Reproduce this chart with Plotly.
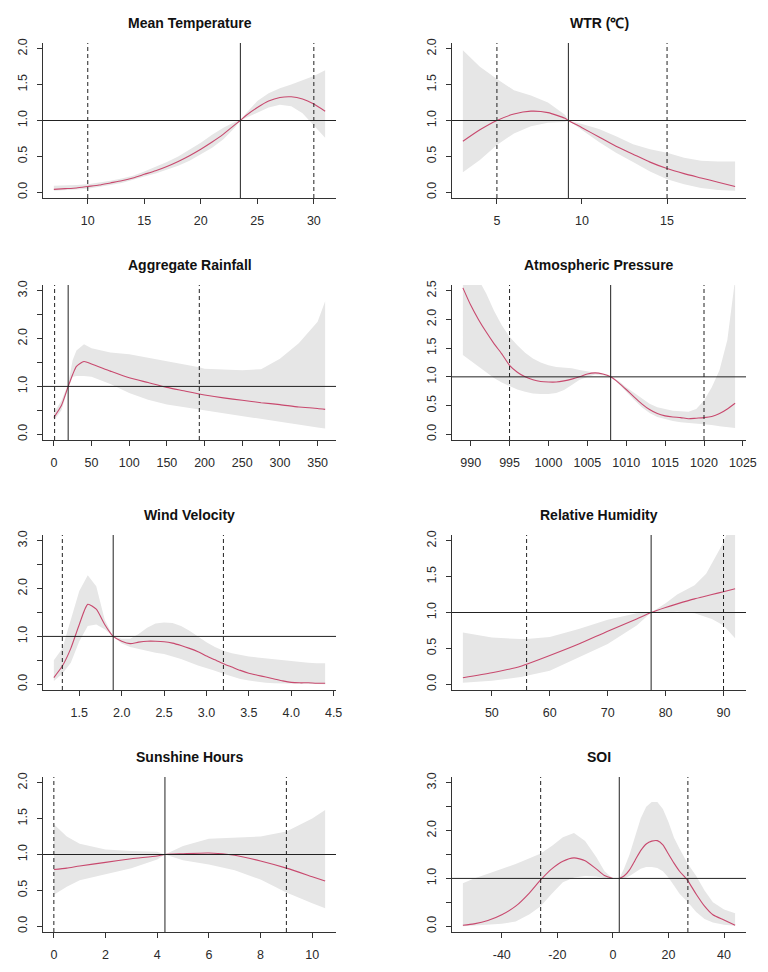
import plotly.graph_objects as go

# ---------------- data ----------------
titles = ["Mean Temperature", "WTR (\u2103)", "Aggregate Rainfall", "Atmospheric Pressure",
          "Wind Velocity", "Relative Humidity", "Sunshine Hours", "SOI"]

# Mean Temperature
temp_x = [7, 8, 9, 10, 11, 12, 13, 14, 15, 16, 17, 18, 19, 20, 21, 22, 23, 23.5, 24, 25, 26, 27, 28, 29, 30, 31]
temp_fit = [0.04, 0.05, 0.06, 0.08, 0.10, 0.13, 0.16, 0.20, 0.25, 0.30, 0.36, 0.43, 0.51, 0.60, 0.70, 0.81, 0.94, 1.0, 1.07, 1.18, 1.27, 1.32, 1.33, 1.30, 1.23, 1.13]
temp_high = [0.09, 0.09, 0.10, 0.11, 0.13, 0.16, 0.19, 0.23, 0.29, 0.35, 0.42, 0.50, 0.59, 0.69, 0.80, 0.90, 0.98, 1.0, 1.10, 1.27, 1.38, 1.45, 1.50, 1.56, 1.62, 1.70]
temp_low = [0.02, 0.03, 0.04, 0.05, 0.07, 0.10, 0.13, 0.17, 0.22, 0.26, 0.31, 0.37, 0.44, 0.53, 0.62, 0.74, 0.90, 1.0, 1.04, 1.11, 1.18, 1.22, 1.20, 1.10, 0.93, 0.76]
temp_ref = 23.5
temp_dash = [10, 30]

# WTR
wtr_x = [3, 4, 5, 6, 7, 8, 9, 9.2, 10, 11, 12, 13, 14, 15, 16, 17, 18, 19]
wtr_fit = [0.71, 0.87, 1.0, 1.09, 1.13, 1.11, 1.03, 1.0, 0.90, 0.77, 0.64, 0.53, 0.42, 0.33, 0.26, 0.20, 0.14, 0.08]
wtr_high = [1.98, 1.75, 1.58, 1.42, 1.35, 1.25, 1.08, 1.0, 0.95, 0.88, 0.78, 0.67, 0.60, 0.55, 0.48, 0.44, 0.43, 0.43]
wtr_low = [0.28, 0.45, 0.66, 0.82, 0.92, 0.97, 0.98, 1.0, 0.86, 0.70, 0.55, 0.42, 0.29, 0.18, 0.11, 0.06, 0.03, 0.02]
wtr_ref = 9.2
wtr_dash = [5, 15]

# Aggregate Rainfall
rain_x = [0, 10, 19, 25, 30, 40, 50, 75, 100, 125, 150, 175, 193, 200, 225, 250, 275, 300, 325, 350, 360]
rain_fit = [0.35, 0.60, 1.0, 1.25, 1.42, 1.52, 1.47, 1.32, 1.18, 1.08, 0.98, 0.90, 0.84, 0.82, 0.76, 0.71, 0.66, 0.62, 0.57, 0.54, 0.52]
rain_high = [0.45, 0.70, 1.05, 1.55, 1.75, 1.88, 1.80, 1.71, 1.67, 1.60, 1.52, 1.45, 1.40, 1.37, 1.35, 1.34, 1.36, 1.58, 1.90, 2.35, 2.78]
rain_low = [0.28, 0.50, 0.95, 1.20, 1.22, 1.22, 1.20, 1.05, 0.86, 0.72, 0.62, 0.55, 0.51, 0.49, 0.44, 0.38, 0.32, 0.25, 0.20, 0.14, 0.12]
rain_ref = 19
rain_dash = [1, 193]

# Atmospheric Pressure
pres_x = list(range(989, 1025))
pres_fit = [2.55, 2.25, 2.0, 1.78, 1.58, 1.40, 1.20, 1.08, 1.0, 0.95, 0.92, 0.91, 0.91, 0.93, 0.96, 1.0, 1.05, 1.07, 1.05, 1.0,
            0.90, 0.78, 0.65, 0.53, 0.43, 0.36, 0.32, 0.30, 0.29, 0.27, 0.28, 0.29, 0.31, 0.36, 0.44, 0.54]
pres_high = [3.5, 3.2, 2.7, 2.45, 2.15, 1.9, 1.70, 1.55, 1.42, 1.32, 1.25, 1.20, 1.17, 1.16, 1.15, 1.12, 1.10, 1.08, 1.05, 1.0,
             0.93, 0.82, 0.72, 0.62, 0.53, 0.47, 0.44, 0.41, 0.40, 0.39, 0.44, 0.59, 0.82, 1.12, 1.64, 2.7]
pres_low = [1.38, 1.28, 1.18, 1.08, 0.98, 0.90, 0.84, 0.78, 0.74, 0.71, 0.70, 0.70, 0.72, 0.77, 0.86, 0.95, 1.0, 1.04, 1.03, 1.0,
            0.88, 0.74, 0.60, 0.47, 0.37, 0.30, 0.26, 0.23, 0.21, 0.19, 0.18, 0.17, 0.16, 0.14, 0.12, 0.11]
pres_ref = 1008
pres_dash = [995, 1020]

# Wind Velocity
wind_x = [1.2, 1.3, 1.4, 1.5, 1.6, 1.7, 1.8, 1.9, 2.0, 2.1, 2.2, 2.3, 2.4, 2.5, 2.6, 2.7, 2.8, 2.9, 3.0, 3.1, 3.2,
          3.3, 3.4, 3.5, 3.6, 3.7, 3.8, 3.9, 4.0, 4.1, 4.2, 4.3, 4.4]
wind_fit = [0.14, 0.38, 0.75, 1.25, 1.67, 1.57, 1.25, 1.0, 0.90, 0.85, 0.88, 0.90, 0.90, 0.89, 0.86, 0.81, 0.75, 0.68, 0.59, 0.51, 0.43,
            0.36, 0.29, 0.23, 0.19, 0.15, 0.11, 0.07, 0.04, 0.03, 0.03, 0.02, 0.02]
wind_high = [0.50, 0.75, 1.35, 1.95, 2.28, 2.05, 1.35, 1.0, 0.95, 0.95, 1.05, 1.18, 1.27, 1.29, 1.28, 1.22, 1.12, 1.0, 0.88, 0.78, 0.70,
             0.65, 0.61, 0.58, 0.56, 0.54, 0.52, 0.50, 0.48, 0.47, 0.45, 0.44, 0.44]
wind_low = [0.07, 0.22, 0.45, 0.90, 1.22, 1.25, 1.15, 1.0, 0.85, 0.78, 0.74, 0.70, 0.66, 0.63, 0.58, 0.53, 0.46, 0.39, 0.33, 0.28, 0.22,
            0.16, 0.11, 0.08, 0.05, 0.03, 0.02, 0.01, 0.01, 0.01, 0.01, 0.01, 0.0]
wind_ref = 1.9
wind_dash = [1.3, 3.2]

# Relative Humidity
rh_x = [45, 50, 55, 56, 60, 65, 70, 75, 77.5, 80, 82, 85, 87, 88, 90, 91, 92]
rh_fit = [0.09, 0.16, 0.25, 0.28, 0.40, 0.56, 0.74, 0.91, 1.0, 1.07, 1.12, 1.19, 1.23, 1.25, 1.29, 1.31, 1.33]
rh_high = [0.72, 0.65, 0.63, 0.63, 0.66, 0.77, 0.90, 0.99, 1.0, 1.13, 1.25, 1.38, 1.54, 1.68, 1.98, 2.2, 2.3]
rh_low = [0.02, 0.05, 0.10, 0.12, 0.19, 0.37, 0.56, 0.82, 1.0, 1.0, 1.01, 0.99, 0.94, 0.91, 0.82, 0.73, 0.64]
rh_ref = 77.5
rh_dash = [56, 90]

# Sunshine Hours
sun_x = [0, 0.5, 1, 2, 3, 4, 4.3, 5, 6, 7, 8, 9, 10, 10.5]
sun_fit = [0.79, 0.81, 0.84, 0.89, 0.94, 0.98, 1.0, 1.01, 1.02, 0.99, 0.91, 0.81, 0.69, 0.63]
sun_high = [1.42, 1.25, 1.15, 1.07, 1.05, 1.04, 1.0, 1.12, 1.22, 1.24, 1.25, 1.32, 1.50, 1.62]
sun_low = [0.44, 0.55, 0.64, 0.73, 0.81, 0.93, 1.0, 0.92, 0.86, 0.78, 0.65, 0.47, 0.32, 0.25]
sun_ref = 4.3
sun_dash = [0, 9]

# SOI (two segments)
soi_x1 = [-54, -50, -45, -40, -35, -30, -26, -22, -18, -14, -10, -6, -3, 0]
soi_fit1 = [0.02, 0.05, 0.12, 0.24, 0.42, 0.70, 0.97, 1.20, 1.36, 1.43, 1.37, 1.20, 1.06, 1.0]
soi_high1 = [0.90, 1.0, 1.10, 1.20, 1.30, 1.42, 1.52, 1.68, 1.86, 1.95, 1.78, 1.45, 1.15, 1.0]
soi_low1 = [0.0, 0.02, 0.03, 0.05, 0.10, 0.25, 0.42, 0.68, 0.92, 1.02, 1.05, 1.04, 1.01, 1.0]
soi_x2 = [2.3, 4, 6, 8, 10, 12, 14, 16, 18, 20, 22, 24, 26, 27, 30, 33, 36, 40, 44]
soi_fit2 = [1.0, 1.05, 1.18, 1.38, 1.58, 1.72, 1.78, 1.79, 1.70, 1.51, 1.32, 1.15, 1.02, 0.95, 0.67, 0.42, 0.24, 0.13, 0.02]
soi_high2 = [1.0, 1.2, 1.5, 1.9, 2.25, 2.5, 2.6, 2.6, 2.45, 2.18, 1.85, 1.62, 1.40, 1.30, 1.05, 0.75, 0.50, 0.35, 0.27]
soi_low2 = [1.0, 1.0, 1.05, 1.12, 1.2, 1.24, 1.24, 1.22, 1.15, 1.02, 0.85, 0.68, 0.56, 0.50, 0.30, 0.15, 0.08, 0.03, 0.01]
soi_ref = 2.3
soi_dash = [-26, 27]

# axis limits and ticks
ylims = [2, 2, 3, 2.5, 3, 2, 2, 3]
xticks = [
    [10, 15, 20, 25, 30],
    [5, 10, 15],
    [0, 50, 100, 150, 200, 250, 300, 350],
    [990, 995, 1000, 1005, 1010, 1015, 1020, 1025],
    [1.5, 2.0, 2.5, 3.0, 3.5, 4.0, 4.5],
    [50, 60, 70, 80, 90],
    [0, 2, 4, 6, 8, 10],
    [-40, -20, 0, 20, 40],
]
xtick_fmt = ["{:g}", "{:g}", "{:g}", "{:g}", "{:.1f}", "{:g}", "{:g}", "{:g}"]

segments = [
    [(temp_x, temp_fit, temp_low, temp_high)],
    [(wtr_x, wtr_fit, wtr_low, wtr_high)],
    [(rain_x, rain_fit, rain_low, rain_high)],
    [(pres_x, pres_fit, pres_low, pres_high)],
    [(wind_x, wind_fit, wind_low, wind_high)],
    [(rh_x, rh_fit, rh_low, rh_high)],
    [(sun_x, sun_fit, sun_low, sun_high)],
    [(soi_x1, soi_fit1, soi_low1, soi_high1), (soi_x2, soi_fit2, soi_low2, soi_high2)],
]
refs = [temp_ref, wtr_ref, rain_ref, pres_ref, wind_ref, rh_ref, sun_ref, soi_ref]
dashes = [temp_dash, wtr_dash, rain_dash, pres_dash, wind_dash, rh_dash, sun_dash, soi_dash]

# ---------------- layout ----------------
W, H = 768, 972
COLS = [(43, 336), (452, 746)]
ROWS = [(43, 198), (285, 440), (535, 690), (777, 932)]
FONT = "Liberation Sans, Arial, sans-serif"
AX = "#333333"
CURVE = "#c8496e"
BAND = "#e6e6e6"

fig = go.Figure()
layout = dict(template="none", width=W, height=H, autosize=False,
              margin=dict(l=0, r=0, t=0, b=0, pad=0),
              paper_bgcolor="white", plot_bgcolor="white", showlegend=False,
              font=dict(family=FONT, color="#222222"))
shapes = []
annotations = []

for i in range(8):
    n = i + 1
    sfx = "" if n == 1 else str(n)
    cx = COLS[i % 2]
    ry = ROWS[i // 2]
    xs_all = [v for seg in segments[i] for v in seg[0]]
    xmin, xmax = min(xs_all), max(xs_all)
    span = xmax - xmin
    ylim = ylims[i]

    for (xs, fit, lo, hi) in segments[i]:
        fig.add_trace(go.Scatter(
            x=list(xs) + list(xs)[::-1], y=list(hi) + list(lo)[::-1],
            fill="toself", fillcolor=BAND, mode="lines", line=dict(width=0),
            hoverinfo="skip", xaxis="x" + sfx, yaxis="y" + sfx))
        fig.add_trace(go.Scatter(
            x=xs, y=fit, mode="lines", line=dict(color=CURVE, width=1.1, shape="spline", smoothing=0.6),
            xaxis="x" + sfx, yaxis="y" + sfx))

    yt = [k * 0.5 for k in range(int(ylim * 2) + 1)]
    if ylim >= 3:
        ytext = ["{:.1f}".format(v) if abs(v - round(v)) < 1e-9 else "" for v in yt]
    else:
        ytext = ["{:.1f}".format(v) for v in yt]

    layout["xaxis" + sfx] = dict(
        domain=[cx[0] / W, cx[1] / W], anchor="y" + sfx, automargin=False,
        range=[xmin - 0.04 * span, xmax + 0.04 * span],
        showline=True, linecolor=AX, linewidth=1, mirror=False,
        showgrid=False, zeroline=False,
        ticks="outside", ticklen=5, tickwidth=1, tickcolor=AX,
        tickvals=xticks[i], ticktext=[xtick_fmt[i].format(v) for v in xticks[i]],
        tickfont=dict(size=12.5, family=FONT, color="#2a2a2a"),
        ticklabelstandoff=6)
    layout["yaxis" + sfx] = dict(
        domain=[1 - ry[1] / H, 1 - ry[0] / H], anchor="x" + sfx, automargin=False,
        range=[-0.04 * ylim, ylim * 1.04],
        showline=True, linecolor=AX, linewidth=1, mirror=False,
        showgrid=False, zeroline=False,
        ticks="outside", ticklen=5, tickwidth=1, tickcolor=AX,
        tickvals=yt, ticktext=ytext, tickangle=-90,
        tickfont=dict(size=12.5, family=FONT, color="#2a2a2a"),
        ticklabelstandoff=5)

    xd = "x" + sfx + " domain"
    yd = "y" + sfx + " domain"
    shapes.append(dict(type="line", xref=xd, x0=0, x1=1, yref="y" + sfx, y0=1, y1=1,
                       line=dict(color="#222222", width=1)))
    shapes.append(dict(type="line", xref="x" + sfx, x0=refs[i], x1=refs[i], yref=yd, y0=0, y1=1,
                       line=dict(color="#222222", width=1)))
    for d in dashes[i]:
        shapes.append(dict(type="line", xref="x" + sfx, x0=d, x1=d, yref=yd, y0=0, y1=1,
                           line=dict(color="#222222", width=1, dash="4px,3px")))

    annotations.append(dict(
        text="<b>" + titles[i] + "</b>", xref="paper", yref="paper",
        x=(cx[0] + cx[1]) / 2 / W, y=1 - (ry[0] - 20) / H,
        xanchor="center", yanchor="middle", showarrow=False,
        font=dict(size=14, family=FONT, color="#111111")))

layout["shapes"] = shapes
layout["annotations"] = annotations
fig.update_layout(**layout)
fig.write_html("out.html", config={"displayModeBar": False},
               post_script="document.body.style.margin='0';document.body.style.padding='0';document.body.style.overflow='hidden';")
